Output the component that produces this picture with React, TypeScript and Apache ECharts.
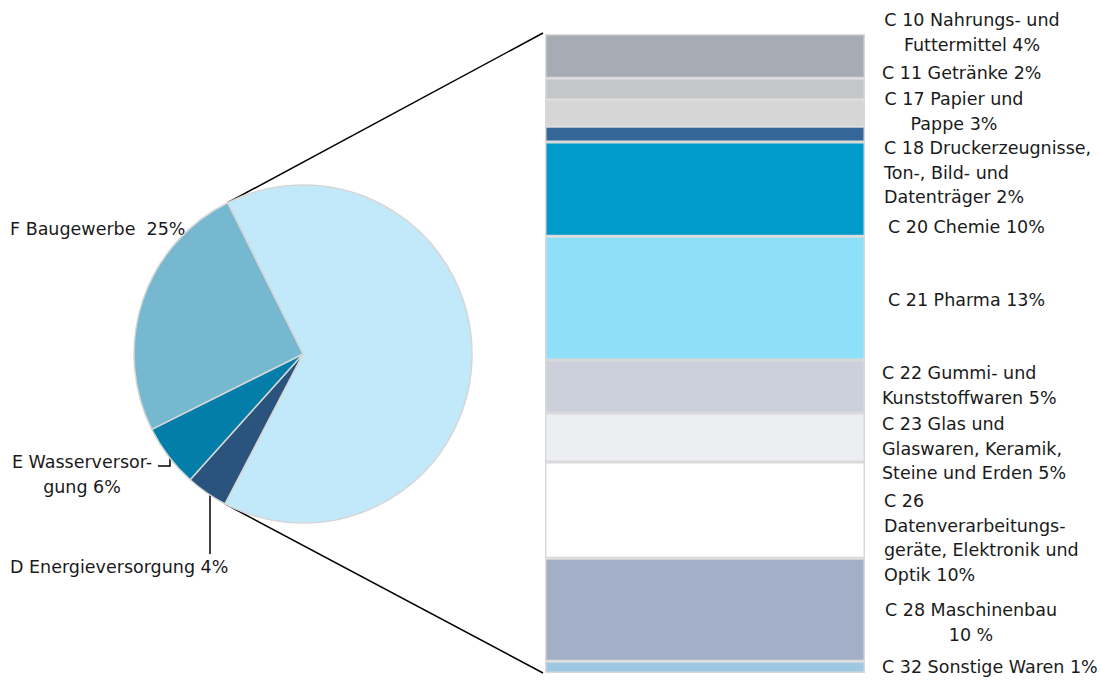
import React, { useEffect, useRef } from "react";
import * as echarts from "echarts";

// ---- Data ----
const pieCategories = ["C Verarbeitendes Gewerbe", "D Energieversorgung", "E Wasserversorgung", "F Baugewerbe"];
const pieValues = [65, 4, 6, 25];
const pieColors = ["#c2e9f9", "#2a537e", "#037ea8", "#76b8d0"];

const pieLabelLines = [
  ["C Verarbeitendes", "Gewerbe 65%"],
  ["D Energieversorgung 4%"],
  ["E Wasserversor-", "gung 6%"],
  ["F Baugewerbe  25%"],
];

const barCategories = ["C 10", "C 11", "C 17", "C 18", "C 20", "C 21", "C 22", "C 23", "C 26", "C 28", "C 32"];
const barValues = [4.5, 2.2, 2.7, 1.6, 9.6, 12.6, 5.4, 5.0, 9.8, 10.5, 1.2];
const barColors = ["#a7abb3", "#c5c6ca", "#d6d6d6", "#346698", "#009acb", "#8edff8", "#cbd0da", "#edeef1", "#ffffff", "#a3afc6", "#9ec8e2"];
const barLabelLines = [
  ["C 10 Nahrungs- und", "Futtermittel 4%"],
  ["C 11 Getränke 2%"],
  ["C 17 Papier und", "Pappe 3%"],
  ["C 18 Druckerzeugnisse,", "Ton-, Bild- und", "Datenträger 2%"],
  ["C 20 Chemie 10%"],
  ["C 21 Pharma 13%"],
  ["C 22 Gummi- und", "Kunststoffwaren 5%"],
  ["C 23 Glas und", "Glaswaren, Keramik,", "Steine und Erden 5%"],
  ["C 26", "Datenverarbeitungs-", "geräte, Elektronik und", "Optik 10%"],
  ["C 28 Maschinenbau", "10 %"],
  ["C 32 Sonstige Waren 1%"],
];

// ---- Layout ----
const FONT = "DejaVu Sans";
const FS = 17.5;
const LH = 24.5;
const TEXT_COLOR = "#1a1a1a";
const PIE_CX = 303;
const PIE_CY = 354;
const PIE_R = 169;
const PIE_START = 116.5;
const GRID = { left: 545, top: 34, width: 320, height: 639 };

const barLabelPos: { x: number; y: number; align: string }[] = [
  { x: 972, y: 20, align: "center" },
  { x: 882, y: 73, align: "left" },
  { x: 954, y: 99, align: "center" },
  { x: 884, y: 148, align: "left" },
  { x: 888, y: 227, align: "left" },
  { x: 888, y: 300, align: "left" },
  { x: 882, y: 373, align: "left" },
  { x: 882, y: 424, align: "left" },
  { x: 884, y: 501, align: "left" },
  { x: 971, y: 610, align: "center" },
  { x: 882, y: 667, align: "left" },
];

const pieLabelPos: { x: number; y: number; align: string }[] = [
  { x: 379, y: 343, align: "center" },
  { x: 10, y: 567, align: "left" },
  { x: 82, y: 462, align: "center" },
  { x: 10, y: 229, align: "left" },
];

function textLines(lines: string[], pos: { x: number; y: number; align: string }) {
  return lines.map((t, i) => ({
    type: "text",
    x: pos.x,
    y: pos.y + i * LH,
    silent: true,
    style: {
      text: t,
      fill: TEXT_COLOR,
      font: `${FS}px "${FONT}"`,
      textAlign: pos.align,
      textVerticalAlign: "middle",
    },
  }));
}

export default function App() {
  const ref = useRef<HTMLDivElement>(null);
  useEffect(() => {
    if (!ref.current) return;
    const chart = echarts.init(ref.current, undefined, { renderer: "svg" });
    const total = barValues.reduce((a, b) => a + b, 0);
    const pieTotal = pieValues.reduce((a, b) => a + b, 0);
    const aStart = (PIE_START * Math.PI) / 180;
    const aEnd = ((PIE_START - (360 * pieValues[0]) / pieTotal) * Math.PI) / 180;
    const p1 = [PIE_CX + PIE_R * Math.cos(aStart), PIE_CY - PIE_R * Math.sin(aStart)];
    const p2 = [PIE_CX + PIE_R * Math.cos(aEnd), PIE_CY - PIE_R * Math.sin(aEnd)];

    const graphics: any[] = [
      {
        type: "line",
        silent: true,
        z: 0,
        shape: { x1: p1[0], y1: p1[1], x2: GRID.left - 2, y2: GRID.top - 1 },
        style: { stroke: "#000", lineWidth: 1.5 },
      },
      {
        type: "line",
        silent: true,
        z: 0,
        shape: { x1: p2[0], y1: p2[1], x2: GRID.left - 2, y2: GRID.top + GRID.height },
        style: { stroke: "#000", lineWidth: 1.5 },
      },
      {
        type: "polyline",
        silent: true,
        shape: { points: [[158, 466], [170, 466], [170, 458]] },
        style: { stroke: "#000", lineWidth: 1.5, fill: null },
      },
      {
        type: "line",
        silent: true,
        shape: { x1: 210, y1: 495, x2: 210, y2: 554 },
        style: { stroke: "#000", lineWidth: 1.5 },
      },
    ];
    barLabelLines.forEach((l, i) => graphics.push(...textLines(l, barLabelPos[i])));
    pieLabelLines.forEach((l, i) => graphics.push(...textLines(l, pieLabelPos[i])));

    chart.setOption({
      animation: false,
      grid: { ...GRID, containLabel: false },
      xAxis: { type: "category", data: ["C"], show: false },
      yAxis: { type: "value", min: 0, max: total, inverse: true, show: false },
      series: [
        {
          type: "pie",
          center: [PIE_CX, PIE_CY],
          radius: PIE_R,
          startAngle: PIE_START,
          clockwise: true,
          label: { show: false },
          labelLine: { show: false },
          emphasis: { disabled: true },
          itemStyle: { borderColor: "#d6d6d6", borderWidth: 1.5 },
          data: pieCategories.map((name, i) => ({
            name,
            value: pieValues[i],
            itemStyle: { color: pieColors[i] },
          })),
        },
        ...barCategories.map((name, i) => ({
          type: "bar",
          name,
          stack: "C",
          barWidth: "100%",
          emphasis: { disabled: true },
          itemStyle: { color: barColors[i], borderColor: "#d9d9d9", borderWidth: 1.5 },
          data: [barValues[i]],
        })),
      ],
      graphic: graphics,
    });
    return () => chart.dispose();
  }, []);
  return <div ref={ref} style={{ width: 1101, height: 680, position: "absolute", left: 0, top: 0 }} />;
}
